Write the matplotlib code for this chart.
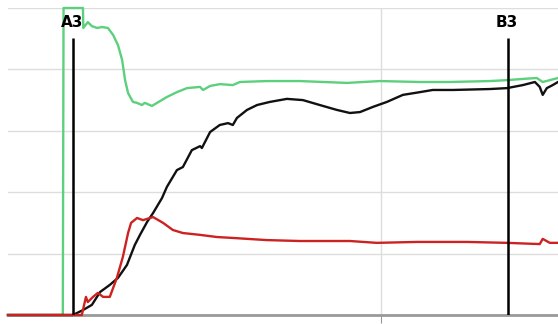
import numpy as np
import matplotlib.pyplot as plt

# green trace
t_green = [0, 14.7, 14.9, 20.1, 20.2, 21.4, 22.5, 23.9, 25.2, 26.8, 28.2, 29.5, 30.6, 31.4,
           32.2, 33.5, 34.6, 35.9, 36.7, 38.6, 40.8, 42.6, 45.3, 48.0, 51.5, 52.3, 54.2,
           56.8, 60.3, 62.2, 69.4, 78.3, 90.9, 99.7, 110.5, 118.5, 129.2, 133.8, 138.1,
           141.8, 143.4, 145.3, 147.5]
v_green = [0, 0, 100, 100, 93.5, 95.4, 94.1, 93.5, 93.8, 93.5, 91.2, 87.9, 83.1, 76.5,
           72.3, 69.4, 69.1, 68.4, 69.1, 68.1, 69.7, 71.0, 72.6, 73.9, 74.3, 73.3, 74.6,
           75.2, 74.9, 75.9, 76.2, 76.2, 75.6, 76.2, 75.9, 75.9, 76.2, 76.5, 76.9,
           77.2, 75.9, 76.5, 77.2]

# black trace
t_black = [0, 17.4, 20.1, 22.5, 24.7, 27.3, 29.5, 31.9, 34.0, 35.4, 37.3, 38.9, 41.3, 42.6,
           45.3, 46.9, 49.3, 51.5, 52.0, 54.2, 56.8, 59.0, 60.3, 61.4, 64.1, 66.8, 70.2,
           74.8, 79.1, 83.6, 88.2, 91.7, 94.4, 97.9, 101.6, 105.9, 110.5, 113.9, 119.3,
           129.2, 133.8, 138.1, 141.3, 142.6, 143.4, 144.5, 146.1, 147.5]
v_black = [0, 0, 1.6, 3.3, 7.5, 9.8, 12.1, 16.3, 22.8, 26.1, 30.3, 33.2, 38.1, 41.7,
           47.2, 48.2, 53.7, 55.0, 54.4, 59.6, 61.9, 62.5, 61.9, 64.2, 66.8, 68.4, 69.4,
           70.4, 70.0, 68.4, 66.8, 65.8, 66.1, 67.8, 69.4, 71.7, 72.6, 73.3, 73.3,
           73.6, 73.9, 74.9, 75.9, 74.3, 71.7, 73.9, 74.9, 75.9]

# red trace
t_red = [0, 19.8, 20.9, 21.4, 22.8, 24.1, 25.5, 27.3, 29.2, 30.8, 32.2, 33.0, 34.6, 36.2,
         38.9, 41.6, 44.2, 46.9, 51.5, 56.0, 60.3, 69.4, 78.3, 91.7, 98.9, 109.7, 123.1,
         133.8, 142.6, 143.4, 145.3, 147.5]
v_red = [0, 0, 5.9, 4.2, 5.9, 7.2, 5.9, 5.9, 12.1, 18.9, 26.7, 30.0, 31.6, 30.9,
         31.9, 30.0, 27.7, 26.7, 26.1, 25.4, 25.1, 24.4, 24.1, 24.1, 23.5, 23.8, 23.8,
         23.5, 23.1, 24.8, 23.5, 23.5]

marker_names = ['A3', 'B3']
marker_t = [17.4, 134.0]

fig = plt.figure(figsize=(5.58, 3.24), dpi=100)
ax = fig.add_axes([8 / 558, 9 / 324, 550 / 558, 307 / 324])

ax.plot(t_green, v_green, color='#5cd07c', lw=1.7, clip_on=False, zorder=3)
ax.plot(t_black, v_black, color='#111111', lw=1.7, clip_on=False, zorder=4)
ax.plot(t_red, v_red, color='#cc2222', lw=1.7, clip_on=False, zorder=5)

for name, t in zip(marker_names, marker_t):
    ax.vlines(t, 0, 90.2, color='black', lw=1.8, zorder=6)
    ax.text(t - 0.3, 95.4, name, ha='center', va='center', fontsize=11,
            fontweight='bold', color='black', zorder=7)

ax.set_xlim(0, 147.5)
ax.set_ylim(0, 100)
ax.set_yticks([20, 40, 60, 80, 100])
ax.set_xticks([100])
ax.grid(True, color='#dddddd', lw=1)
ax.tick_params(axis='y', length=0, labelleft=False)
ax.tick_params(axis='x', length=6, color='#999999', labelbottom=False)
for side in ['left', 'top', 'right']:
    ax.spines[side].set_visible(False)
ax.spines['bottom'].set_color('#999999')
ax.spines['bottom'].set_linewidth(2)

fig.savefig('out.png', dpi=100)
